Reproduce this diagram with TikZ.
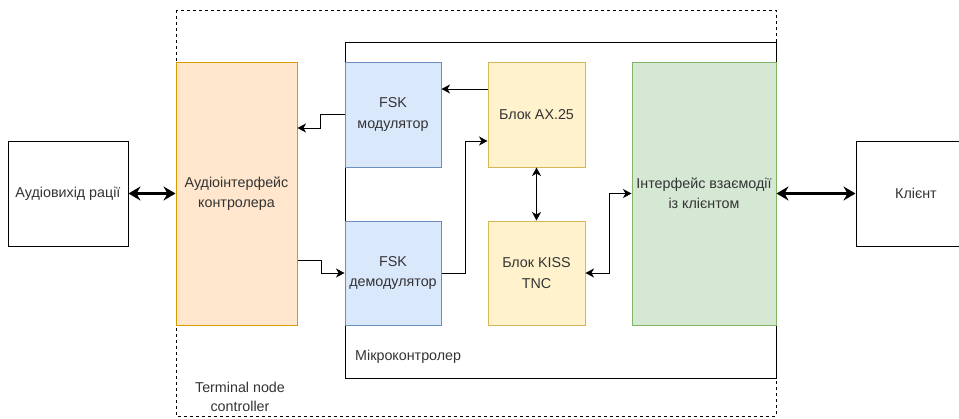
\documentclass[tikz,border=0pt]{standalone}
\usepackage{fontspec}
\setmainfont{Liberation Sans}
\usetikzlibrary{arrows.meta}
\definecolor{orfill}{HTML}{FFE6CC}
\definecolor{ordraw}{HTML}{D79B00}
\definecolor{blfill}{HTML}{DAE8FC}
\definecolor{bldraw}{HTML}{6C8EBF}
\definecolor{yefill}{HTML}{FFF2CC}
\definecolor{yedraw}{HTML}{D6B656}
\definecolor{grfill}{HTML}{D5E8D4}
\definecolor{grdraw}{HTML}{82B366}
\definecolor{txt}{HTML}{333333}
\tikzset{
  box/.style={draw, line width=1pt, inner sep=0pt, align=center, text=txt,
    font=\fontsize{14.3}{20.5}\selectfont},
  thinarrow/.style={line width=1pt, -{Stealth[length=8.5pt,width=9pt,inset=2.5pt]}},
  thinboth/.style={line width=1pt, {Stealth[length=8.5pt,width=9pt,inset=2.5pt]}-{Stealth[length=8.5pt,width=9pt,inset=2.5pt]}},
  thickboth/.style={line width=2.5pt, {Stealth[length=12pt,width=14pt,inset=4pt]}-{Stealth[length=12pt,width=14pt,inset=4pt]}},
  lbl/.style={text=txt, font=\fontsize{14.3}{19}\selectfont, inner sep=0pt, align=center}
}
\begin{document}
\begin{tikzpicture}[x=1pt,y=-1pt]
\useasboundingbox (0,0) rectangle (959,418);
% outer dashed box
\draw[line width=1pt, dash pattern=on 3pt off 3pt] (176,10) rectangle (776,416);
\node[lbl] (tnc) at (240,397) {Terminal node\\controller};
% microcontroller box
\draw[line width=1pt] (345,42) rectangle (776,378);
\node[lbl, anchor=west] (mcu) at (355,357) {Мікроконтролер};
% blocks
\node[box, fill=white, minimum width=120pt, minimum height=105pt] (radio) at (68,193.5) {Аудіовихід рації};
\node[box, fill=orfill, draw=ordraw, minimum width=121pt, minimum height=263pt] (audio) at (236.5,193.5) {Аудіоінтерфейс\\контролера};
\node[box, fill=blfill, draw=bldraw, minimum width=96pt, minimum height=105pt] (mod) at (393,114.5) {FSK\\модулятор};
\node[box, fill=blfill, draw=bldraw, minimum width=96pt, minimum height=104pt] (demod) at (393,273) {FSK\\демодулятор};
\node[box, fill=yefill, draw=yedraw, minimum width=97pt, minimum height=105pt] (ax) at (536.5,114.5) {Блок AX.25};
\node[box, fill=yefill, draw=yedraw, minimum width=97pt, minimum height=104pt] (kiss) at (536.5,273) {Блок KISS\\TNC};
\node[box, fill=grfill, draw=grdraw, minimum width=144pt, minimum height=263pt] (iface) at (704,193.5) {Інтерфейс взаємодії\\із клієнтом};
\node[box, fill=white, minimum width=120pt, minimum height=105pt] (client) at (916,193.5) {Клієнт};
% connectors
\draw[thickboth] (radio.east) -- (audio.west);
\draw[thickboth] (iface.east) -- (client.west);
\draw[thinarrow] ([yshift=25.5pt]ax.west) -- ([yshift=25.5pt]mod.east);
\draw[thinarrow] (mod.west) -- ++(-24,0) |- ([yshift=65.5pt]audio.east);
\draw[thinarrow] ([yshift=-66.5pt]audio.east) -- ++(24,0) |- (demod.west);
\draw[thinarrow] (demod.east) -- ++(24,0) |- ([yshift=-26.5pt]ax.west);
\draw[thinboth] (ax.south) -- (kiss.north);
\draw[thinboth] (kiss.east) -- ++(24,0) |- (iface.west);
\end{tikzpicture}
\end{document}
